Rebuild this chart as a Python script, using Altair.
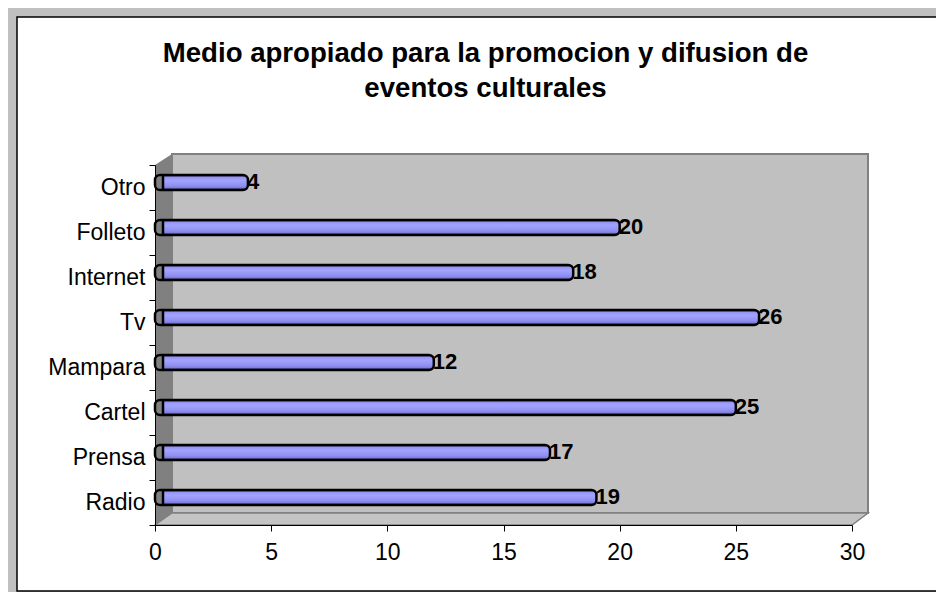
import altair as alt
import pandas as pd

# ---- data ----
categories = ["Otro", "Folleto", "Internet", "Tv", "Mampara", "Cartel", "Prensa", "Radio"]
values = [4, 20, 18, 26, 12, 25, 17, 19]
x_ticks = [0, 5, 10, 15, 20, 25, 30]
title_lines = ["Medio apropiado para la promocion y difusion de", "eventos culturales"]

df = pd.DataFrame({"medio": categories, "valor": values})

# ---- layout / style ----
W, H = 697, 360
FONT = "Liberation Sans"
DX, DY = 17, 11          # 3D depth of the walls
one = pd.DataFrame({"k": [0]})

gradient = alt.Gradient(
    gradient="linear",
    stops=[
        alt.GradientStop(color="#8a8aec", offset=0),
        alt.GradientStop(color="#a3a3ff", offset=0.35),
        alt.GradientStop(color="#9090f2", offset=0.7),
        alt.GradientStop(color="#6c6cc8", offset=1),
    ],
    x1=0, x2=0, y1=0, y2=1,
)

# chart area (white box with black border)
chart_area = alt.Chart(one).mark_rect(fill="white", stroke="black", strokeWidth=1.5).encode(
    x=alt.value(-138), x2=alt.value(820), y=alt.value(-148), y2=alt.value(426)
)

# chart title (two centred lines)
title = alt.Chart(one).mark_text(
    text=title_lines, font=FONT, fontSize=27.6, fontWeight="bold", color="black",
    align="center", baseline="alphabetic", lineHeight=35,
).encode(x=alt.value(330.5), y=alt.value(-103))

# back wall
back_wall = alt.Chart(one).mark_rect(fill="#c0c0c0", stroke="#808080", strokeWidth=2).encode(
    x=alt.value(DX), x2=alt.value(W + 16), y=alt.value(-DY), y2=alt.value(H - 12)
)

# left side wall
left_wall = alt.Chart(one).mark_point(
    shape=f"M0,0 L{DX},{-DY} L{DX},{H - 12} L0,{H} Z",
    size=4, filled=True, fill="#808080", strokeWidth=0, opacity=1,
).encode(x=alt.value(0), y=alt.value(0))

# floor
floor = alt.Chart(one).mark_point(
    shape=f"M0,{H} L{DX},{H - 12} L{W + 16},{H - 12} L{W},{H} Z",
    size=4, filled=True, fill="#c4c4c4", stroke="#808080", strokeWidth=1.5, opacity=1,
).encode(x=alt.value(0), y=alt.value(0))

base = alt.Chart(df).encode(
    y=alt.Y(
        "medio:N", sort=categories, title=None,
        scale=alt.Scale(paddingInner=0, paddingOuter=0),
        axis=alt.Axis(
            tickBand="extent", tickSize=6, tickColor="black", domainColor="black",
            labelFont=FONT, labelFontSize=23, labelColor="black", labelPadding=4,
            grid=False, zindex=1,
        ),
    ),
    x=alt.X(
        "valor:Q", title=None,
        scale=alt.Scale(domain=[0, 30], nice=False),
        axis=alt.Axis(
            values=x_ticks, tickSize=6, tickColor="black", domainColor="black",
            labelFont=FONT, labelFontSize=23, labelColor="black", labelPadding=10,
            labelFlush=False, grid=False, zindex=1,
        ),
    ),
)

bars = base.mark_bar(
    size=15, fill=gradient, stroke="black", strokeWidth=2.5,
    cornerRadius=5, xOffset=8, x2Offset=4, yOffset=-5, y2Offset=-5,
)

labels = base.mark_text(
    align="left", baseline="middle", dx=-1, dy=-6,
    font=FONT, fontSize=22, fontWeight="bold", color="black",
).encode(text="valor:Q")

chart = alt.layer(chart_area, title, back_wall, left_wall, floor, bars, labels).properties(
    width=W, height=H,
    autosize=alt.AutoSizeParams(type="none"),
    padding={"left": 147, "top": 157, "right": 84, "bottom": 67},
).configure(background="#c0c0c0", font=FONT).configure_view(stroke="transparent")

chart.save("out.html", embed_options={"renderer": "svg", "actions": False})
